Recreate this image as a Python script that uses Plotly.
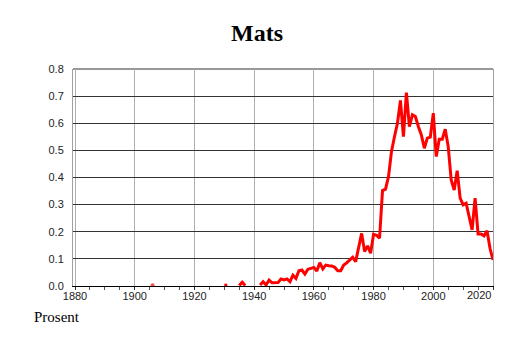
import plotly.graph_objects as go

# ---- data ----
title_text = "Mats"
y_label = "Prosent"

data_years = [1906, 1930, 1931, 1935, 1936, 1937,
              1942, 1943, 1944, 1945, 1946, 1947, 1948, 1949, 1950,
              1951, 1952, 1953, 1954, 1955, 1956, 1957, 1958, 1959, 1960,
              1961, 1962, 1963, 1964, 1965, 1966, 1967, 1968, 1969, 1970,
              1971, 1972, 1973, 1974, 1975, 1976, 1977, 1978, 1979, 1980,
              1981, 1982, 1983, 1984, 1985, 1986, 1987, 1988, 1989, 1990,
              1991, 1992, 1993, 1994, 1995, 1996, 1997, 1998, 1999, 2000,
              2001, 2002, 2003, 2004, 2005, 2006, 2007, 2008, 2009, 2010,
              2011, 2012, 2013, 2014, 2015, 2016, 2017, 2018, 2019, 2020]
data_values = [0.003, 0.003, 0.003, 0.002, 0.014, 0.002,
               0.004, 0.016, 0.004, 0.022, 0.012, 0.013, 0.013, 0.026, 0.022,
               0.026, 0.016, 0.040, 0.028, 0.056, 0.059, 0.044, 0.062, 0.065, 0.068,
               0.055, 0.086, 0.063, 0.077, 0.075, 0.074, 0.069, 0.056, 0.056, 0.077,
               0.085, 0.095, 0.106, 0.090, 0.145, 0.194, 0.127, 0.148, 0.121, 0.191,
               0.187, 0.176, 0.352, 0.357, 0.403, 0.496, 0.550, 0.600, 0.684, 0.551,
               0.713, 0.588, 0.631, 0.625, 0.588, 0.557, 0.508, 0.545, 0.549, 0.637,
               0.477, 0.541, 0.541, 0.578, 0.514, 0.391, 0.354, 0.425, 0.324, 0.299,
               0.305, 0.256, 0.207, 0.324, 0.192, 0.192, 0.185, 0.204, 0.139, 0.096]

first_year, last_year = 1880, 2020
x_tick_vals = [1880, 1900, 1920, 1940, 1960, 1980, 2000, 2020]
x_tick_text = ["1880", "1900", "1920", "1940", "1960", "1980", "2000", "2020"]
y_tick_vals = [0.0, 0.1, 0.2, 0.3, 0.4, 0.5, 0.6, 0.7, 0.8]
y_tick_text = ["0.0", "0.1", "0.2", "0.3", "0.4", "0.5", "0.6", "0.7", "0.8"]

# build full yearly series, gaps where the name did not occur
years = list(range(first_year, last_year + 1))
lookup = dict(zip(data_years, data_values))
share = [lookup.get(y) for y in years]

# isolated single points get a small marker so they remain visible
marker_sizes = []
for i, v in enumerate(share):
    prev_v = share[i - 1] if i > 0 else None
    next_v = share[i + 1] if i < len(share) - 1 else None
    marker_sizes.append(4 if (v is not None and prev_v is None and next_v is None) else 0)

tick_font = dict(family="Liberation Sans, Arial, sans-serif", size=11, color="#222222")

# page body adds an 8px offset; compensate in the margins
W, H = 514, 343
off = 8
plot_l, plot_t, plot_w, plot_h = 73 - off, 69 - off, 420, 217

fig = go.Figure()
fig.add_trace(go.Scatter(
    x=years, y=share, mode="lines+markers",
    line=dict(color="#ff0000", width=3),
    marker=dict(color="#ff0000", size=marker_sizes, line=dict(width=0)),
    connectgaps=False, hoverinfo="x+y", showlegend=False,
))

# last tick label is drawn inside the plot edge, as in the reference
shown_text = x_tick_text[:-1] + [""]

fig.update_layout(
    width=W, height=H,
    margin=dict(l=plot_l, r=W - plot_l - plot_w, t=plot_t, b=H - plot_t - plot_h, autoexpand=False),
    paper_bgcolor="white", plot_bgcolor="white",
    title=dict(text="<b>" + title_text + "</b>", x=(257 - off) / W, xref="container",
               y=1 - (33 - off) / H, yref="container", yanchor="middle", xanchor="center",
               font=dict(family="Liberation Serif, Times New Roman, serif", size=24, color="black")),
    xaxis=dict(
        range=[1879.33, 2020.0], tickvals=x_tick_vals, ticktext=shown_text,
        showgrid=True, gridcolor="#b0b0b0", gridwidth=1,
        showline=True, linecolor="black", linewidth=1, mirror=False,
        ticks="outside", ticklen=3, tickcolor="#333333", ticklabelstandoff=-3,
        minor=dict(dtick=5, tick0=1880, ticks="outside", ticklen=3, tickcolor="#555555", showgrid=False),
        tickfont=tick_font, zeroline=False, fixedrange=True, automargin=False,
    ),
    yaxis=dict(
        range=[0, 0.8], tickvals=y_tick_vals, ticktext=y_tick_text,
        showgrid=True, gridcolor="#333333", gridwidth=1,
        showline=True, linecolor="#a0a0a0", linewidth=1, mirror=True,
        ticks="", ticklabelstandoff=6,
        tickfont=tick_font, zeroline=False, fixedrange=True, automargin=False,
    ),
    annotations=[
        dict(text=x_tick_text[-1], x=x_tick_vals[-1], xref="x", xanchor="right",
             y=(286 - 295) / 217, yref="paper", yanchor="middle",
             showarrow=False, font=tick_font),
        dict(text=y_label, x=(32 - 73) / 420, xref="paper", xanchor="left",
             y=(286 - 317) / 217, yref="paper", yanchor="middle", showarrow=False,
             font=dict(family="Liberation Serif, Times New Roman, serif", size=15, color="black")),
    ],
)
# top border dark like the 0.8 gridline
fig.add_shape(type="line", xref="paper", yref="paper", x0=0, x1=1, y0=1, y1=1,
              line=dict(color="#333333", width=1), layer="below")

fig.write_html("out.html")
